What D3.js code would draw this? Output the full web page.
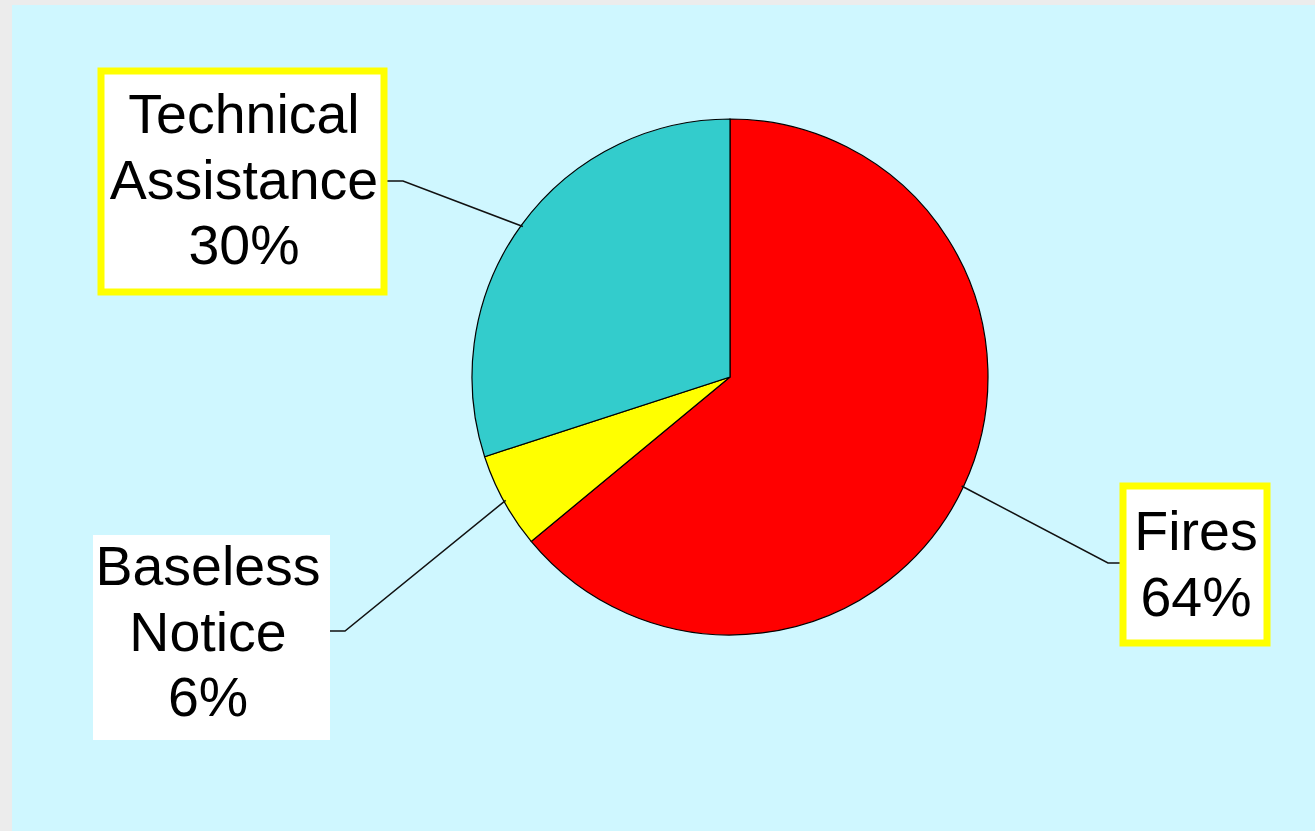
<!DOCTYPE html>
<html>
<head>
<meta charset="utf-8">
<script src="https://cdn.jsdelivr.net/npm/d3@7"></script>
<style>
  body { margin: 0; background: #ececec; }
  svg { display: block; }
  text { font-family: "Liberation Sans", Arial, sans-serif; }
</style>
</head>
<body>
<svg id="chart" width="1315" height="831"></svg>
<script>
// data
var categories = ["Fires", "Baseless Notice", "Technical Assistance"];
var values = [64, 6, 30];
var labelLines = [["Fires", "64%"], ["Baseless", "Notice", "6%"], ["Technical", "Assistance", "30%"]];
var sliceColors = ["#ff0000", "#ffff00", "#33cccc"];

// label placement (box, text centre, first baseline, elbow of leader)
var labelBoxes = [
    {x: 1123, y: 486, w: 144, h: 157, border: "#ffff00", cx: 1196, y0: 550, elbow: [1108, 563], end: [1123, 563]},
    {x: 93, y: 535, w: 237, h: 205, border: null, cx: 208, y0: 585, elbow: [345, 631], end: [330, 631]},
    {x: 101, y: 71, w: 283, h: 221, border: "#ffff00", cx: 244, y0: 133, elbow: [403, 181], end: [386, 181]}
];

const svg = d3.select('#chart');
var width = +svg.attr("width");
var height = +svg.attr("height");

svg.append("rect")
    .attr("width", width)
    .attr("height", height)
    .attr("fill", "#ececec");
svg.append("rect")
    .attr("x", 12)
    .attr("y", 5)
    .attr("width", width - 12)
    .attr("height", height - 5)
    .attr("fill", "#cff7ff");

var cx = 730, cy = 377, radius = 258;

var pie = d3.pie().sort(null).value(function(d){ return d; });
var arcs = pie(values);
var arc = d3.arc().innerRadius(0).outerRadius(radius);

var g = svg.append("g").attr("transform", "translate(" + cx + "," + cy + ")");

g.selectAll(".slice")
    .data(arcs)
    .enter()
    .append("path")
    .attr("class", "slice")
    .attr("d", arc)
    .attr("fill", function(d, i){ return sliceColors[i]; })
    .attr("stroke", "#000")
    .attr("stroke-width", 1.2);

// leader lines: from the rim at the slice mid angle to an elbow, then flat to the box
arcs.forEach(function(d, i) {
    var b = labelBoxes[i];
    var mid = (d.startAngle + d.endAngle) / 2;
    var sx = cx + Math.sin(mid) * (radius - 2);
    var sy = cy - Math.cos(mid) * (radius - 2);
    svg.append("polyline")
        .attr("points", [[sx, sy], b.elbow, b.end].map(function(p){ return p.join(","); }).join(" "))
        .attr("fill", "none")
        .attr("stroke", "#111")
        .attr("stroke-width", 1.5);
});

labelBoxes.forEach(function(b, i) {
    var lg = svg.append("g").attr("class", "label");
    lg.append("rect")
        .attr("x", b.x)
        .attr("y", b.y)
        .attr("width", b.w)
        .attr("height", b.h)
        .attr("fill", "#ffffff")
        .attr("stroke", b.border ? b.border : "none")
        .attr("stroke-width", 7);
    lg.selectAll("text")
        .data(labelLines[i])
        .enter()
        .append("text")
        .attr("x", b.cx)
        .attr("y", function(d, j){ return b.y0 + j * 65.5; })
        .attr("text-anchor", "middle")
        .attr("font-size", 55.5)
        .attr("fill", "#000")
        .text(function(d){ return d; });
});
</script>
</body>
</html>
